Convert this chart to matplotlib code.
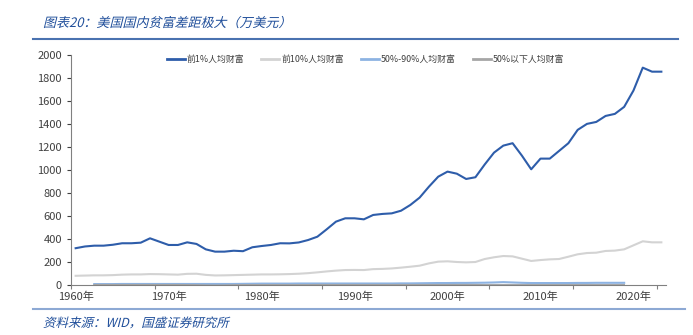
import numpy as np
import matplotlib
import matplotlib.pyplot as plt
from matplotlib.lines import Line2D
from matplotlib.textpath import TextPath
from matplotlib.patches import PathPatch
from matplotlib.font_manager import FontProperties
from matplotlib.transforms import Affine2D

matplotlib.use("Agg")
plt.rcParams["font.family"] = ["Noto Sans CJK SC", "DejaVu Sans"]

years = list(range(1960, 2024))

# 人均财富（万美元）
top1 = [320, 335, 342, 342, 350, 363, 363, 368, 406, 377,
        348, 348, 371, 357, 310, 290, 290, 298, 294, 328,
        339, 348, 363, 362, 370, 391, 420, 484, 551, 580,
        580, 571, 609, 618, 623, 646, 696, 760, 855, 942,
        986, 968, 922, 937, 1048, 1151, 1212, 1233, 1125, 1006,
        1099, 1099, 1166, 1233, 1349, 1401, 1418, 1470, 1488, 1549,
        1691, 1890, 1855, 1855]
top10 = [80, 82, 84, 84, 86, 90, 92, 92, 95, 94,
         92, 90, 97, 98, 88, 83, 84, 86, 88, 90,
         92, 92, 93, 95, 98, 103, 110, 118, 125, 130,
         131, 130, 138, 140, 144, 151, 159, 168, 188, 203,
         206, 200, 197, 200, 226, 241, 252, 249, 229, 209,
         217, 223, 226, 246, 267, 278, 281, 296, 299, 310,
         345, 380, 371, 371]
# 1962-2019
mid40 = [8, 8, 8, 9, 9, 9, 9, 9, 9, 9,
         9, 9, 9, 9, 9, 9, 10, 11, 12, 12,
         12, 12, 13, 13, 13, 13, 13, 13, 13, 13,
         13, 13, 13, 14, 14, 15, 16, 17, 17, 18,
         18, 19, 20, 22, 25, 22, 19, 17, 17, 17,
         17, 17, 18, 18, 19, 19, 19, 19]
bottom50 = [2, 2, 2, 2, 2, 2, 2, 2, 2, 2,
            1, 0, -2, -3, -2, 0, 1, 1, 1, 1,
            1, 1, 1, 1, 2, 2, 2, 2, 2, 2,
            2, 2, 2, 2, 2, 2, 2, 2, 2, 2,
            2, 2, 1, 1, 1, 1, 1, 1, 1, 1,
            1, 1, 1, 1, 1, 1, 1, 1]

labels = ["前1%人均财富", "前10%人均财富", "50%-90%人均财富", "50%以下人均财富"]
colors = ["#2E5DAA", "#D3D3D3", "#8DB3E2", "#A6A6A6"]

x = np.arange(len(years))
x_mid = np.arange(2, 2 + len(mid40))

W, H = 693, 335
fig = plt.figure(figsize=(W / 100, H / 100), dpi=100)
ax = fig.add_axes([71 / W, 1 - 285 / H, 595 / W, 230 / H])

ax.plot(x, top1, color=colors[0], lw=1.5)
ax.plot(x, top10, color=colors[1], lw=1.5)
ax.plot(x_mid, mid40, color=colors[2], lw=1.5)
ax.plot(x_mid, bottom50, color=colors[3], lw=1.2)

ax.set_xlim(-0.5, len(years) - 0.5)
ax.set_ylim(0, 2000)
ax.set_yticks(range(0, 2001, 200))
ax.tick_params(axis="y", labelsize=8, colors="#404040", length=3, width=0.8)

# tick marks every 9 categories, labels every 10 years
ax.set_xticks(np.arange(-0.5, len(years), 9))
ax.set_xticklabels([])
ax.set_xticks(np.arange(0, len(years), 10), minor=True)
ax.set_xticklabels([f"{y}年" for y in years[::10]], minor=True)
ax.tick_params(axis="x", which="major", length=3, width=0.8, colors="#808080")
ax.tick_params(axis="x", which="minor", length=0, labelsize=8,
               labelcolor="#404040", pad=5)

for s in ["top", "right"]:
    ax.spines[s].set_visible(False)
ax.spines["left"].set_color("#808080")
ax.spines["bottom"].set_color("#808080")

handles = [Line2D([], [], color=c, lw=2) for c in colors]
ax.legend(handles, labels, loc="center", bbox_to_anchor=(0.495, 0.98),
          ncol=4, frameon=False, fontsize=6.4, handlelength=2.0,
          handletextpad=0.25, columnspacing=1.9,
          labelcolor="#404040")


def slanted_text(s, x_px, y_px, size_px, color):
    # CJK fonts have no italic face, so shear the glyph outlines instead
    tp = TextPath((0, 0), s, size=size_px,
                  prop=FontProperties(family="Noto Sans CJK SC"))
    tr = Affine2D().skew_deg(14, 0).translate(x_px, y_px)
    fig.add_artist(PathPatch(tp, transform=tr, facecolor=color,
                             edgecolor="none"))


title_color = "#1F4E9A"
slanted_text("图表20：美国国内贫富差距极大（万美元）", 43, H - 27, 13, title_color)
fig.add_artist(Line2D([33 / W, 678 / W], [1 - 38.5 / H] * 2,
                      color="#4A72B0", lw=1.5))
fig.add_artist(Line2D([33 / W, 685 / W], [1 - 309 / H] * 2,
                      color="#8DA9D4", lw=1.5))
slanted_text("资料来源：WID，国盛证券研究所", 43, H - 327, 12.5, title_color)

fig.savefig("out.png", dpi=100)
